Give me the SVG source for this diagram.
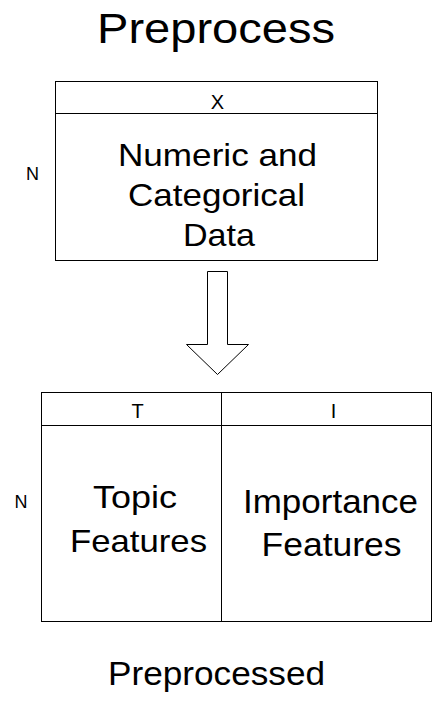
<svg xmlns="http://www.w3.org/2000/svg" width="433" height="718" viewBox="0 0 433 718">
<style>
text{font-family:"Liberation Sans",Arial,Helvetica,sans-serif;fill:#000}
.box{fill:#fff;stroke:#000;stroke-width:1}
.ln{stroke:#000;stroke-width:1;fill:none}
.m{text-anchor:middle}
</style>
<rect width="433" height="718" fill="#fff"/>
<g id="title"><text x="97" y="43" font-size="43" textLength="238" lengthAdjust="spacingAndGlyphs">Preprocess</text></g>
<g id="input">
<rect class="box" x="55.5" y="81.5" width="322" height="179"/>
<line class="ln" x1="55.5" y1="113.5" x2="377.5" y2="113.5"/>
<text class="m" x="217.5" y="109" font-size="20">X</text>
<text class="m" x="32.5" y="179.5" font-size="18">N</text>
<text x="118" y="166" font-size="32" textLength="199" lengthAdjust="spacingAndGlyphs">Numeric and</text>
<text x="128" y="206" font-size="32" textLength="177" lengthAdjust="spacingAndGlyphs">Categorical</text>
<text x="183" y="246" font-size="32" textLength="72" lengthAdjust="spacingAndGlyphs">Data</text>
</g>
<g id="connectors">
<polygon class="box" points="207.5,271.5 227.5,271.5 227.5,344.5 248.5,344.5 217.5,374.5 186.5,344.5 207.5,344.5"/>
</g>
<g id="output">
<rect class="box" x="41.5" y="392.5" width="390" height="229"/>
<line class="ln" x1="41.5" y1="425.5" x2="431.5" y2="425.5"/>
<line class="ln" x1="221.5" y1="392.5" x2="221.5" y2="621.5"/>
<text class="m" x="137.5" y="418" font-size="20">T</text>
<text class="m" x="333.5" y="418" font-size="20">I</text>
<text class="m" x="21" y="507.5" font-size="18">N</text>
<text x="93" y="508" font-size="32" textLength="84" lengthAdjust="spacingAndGlyphs">Topic</text>
<text x="70" y="552" font-size="32" textLength="137" lengthAdjust="spacingAndGlyphs">Features</text>
<text x="243" y="513" font-size="33" textLength="175" lengthAdjust="spacingAndGlyphs">Importance</text>
<text x="261.5" y="556" font-size="33" textLength="140" lengthAdjust="spacingAndGlyphs">Features</text>
</g>
<g id="caption"><text x="108" y="685" font-size="34" textLength="217" lengthAdjust="spacingAndGlyphs">Preprocessed</text></g>
</svg>
